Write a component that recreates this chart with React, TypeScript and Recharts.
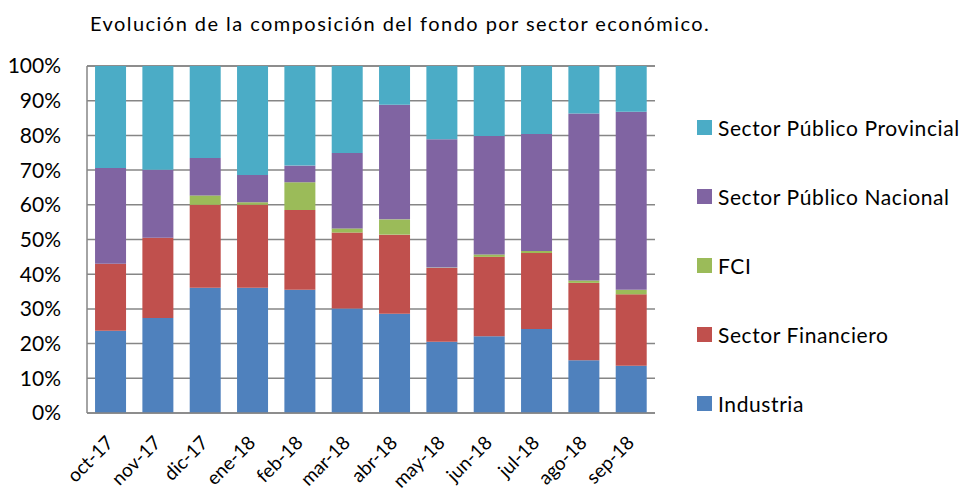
import React from 'react';
import { BarChart, Bar, XAxis, YAxis, CartesianGrid, Legend } from 'recharts';

const months = ['oct-17', 'nov-17', 'dic-17', 'ene-18', 'feb-18', 'mar-18', 'abr-18', 'may-18', 'jun-18', 'jul-18', 'ago-18', 'sep-18'];
const industria = [23.7, 27.4, 36.1, 36.1, 35.5, 30.1, 28.6, 20.5, 22.1, 24.2, 15.2, 13.6];
const financiero = [19.3, 23.1, 23.9, 23.9, 23.0, 21.9, 22.8, 21.3, 22.9, 21.9, 22.3, 20.6];
const fci = [0, 0, 2.7, 0.7, 8.0, 1.2, 4.4, 0.1, 0.7, 0.6, 0.7, 1.3];
const nacional = [27.6, 19.6, 10.8, 7.9, 4.8, 21.7, 33.0, 37.0, 34.1, 33.7, 48.1, 51.3];
const provincial = [29.4, 29.9, 26.5, 31.4, 28.7, 25.1, 11.2, 21.1, 20.2, 19.6, 13.7, 13.2];
const yTicks = [0, 10, 20, 30, 40, 50, 60, 70, 80, 90, 100];

const series = [
  { key: 'industria', name: 'Industria', color: '#4F81BD', values: industria },
  { key: 'financiero', name: 'Sector Financiero', color: '#C0504D', values: financiero },
  { key: 'fci', name: 'FCI', color: '#9BBB59', values: fci },
  { key: 'nacional', name: 'Sector Público Nacional', color: '#8064A2', values: nacional },
  { key: 'provincial', name: 'Sector Público Provincial', color: '#4BACC6', values: provincial },
];

const data = months.map((m, i) => {
  const row: any = { month: m };
  series.forEach((s) => { row[s.key] = s.values[i]; });
  return row;
});

const FONT = 'Lato, "Open Sans", sans-serif';

const XTick = (props: any) => {
  const { x, y, payload } = props;
  return (
    <g transform={`translate(${x + 4},${y + 23})`}>
      <text x={0} y={0} textAnchor="end" transform="rotate(-45)" fontSize={19} fill="#000" fontFamily={FONT}>
        {payload.value}
      </text>
    </g>
  );
};

const renderLegend = () => {
  const items = [...series].reverse();
  return (
    <div style={{ fontFamily: FONT }}>
      {items.map((s) => (
        <div key={s.key} style={{ height: 69, display: 'flex', alignItems: 'center' }}>
          <span style={{ display: 'inline-block', width: 15, height: 15, background: s.color, marginRight: 6 }} />
          <span style={{ fontSize: 21, letterSpacing: 0.6, color: '#000', whiteSpace: 'nowrap' }}>{s.name}</span>
        </div>
      ))}
    </div>
  );
};

export default function App() {
  return (
    <div style={{ position: 'absolute', left: 0, top: 0, width: 968, height: 492, background: '#fff' }}>
      <div style={{ position: 'absolute', left: 90, top: 11, fontFamily: FONT, fontSize: 20, letterSpacing: 1.45, color: '#000', whiteSpace: 'nowrap' }}>
        Evolución de la composición del fondo por sector económico.
      </div>
      <BarChart
        width={968}
        height={492}
        data={data}
        margin={{ top: 66, right: 313, bottom: 0, left: 0 }}
        barCategoryGap="17%"
      >
        <CartesianGrid vertical={false} stroke="#868686" strokeWidth={1.5} />
        <XAxis
          dataKey="month"
          height={79}
          interval={0}
          tick={<XTick />}
          tickLine={false}
          axisLine={{ stroke: '#868686', strokeWidth: 1.5 }}
        />
        <YAxis
          width={87}
          domain={[0, 100]}
          ticks={yTicks}
          interval={0}
          tickFormatter={(v: number) => `${v}%`}
          tick={{ fontSize: 21, fill: '#000', fontFamily: FONT }}
          tickLine={false}
          tickMargin={20}
          axisLine={{ stroke: '#868686', strokeWidth: 1.5 }}
        />
        <Legend
          layout="vertical"
          align="center"
          verticalAlign="middle"
          content={renderLegend}
          wrapperStyle={{ left: 697, top: 93, width: 271, height: 345 }}
        />
        {series.map((s) => (
          <Bar key={s.key} dataKey={s.key} name={s.name} stackId="a" fill={s.color} isAnimationActive={false} />
        ))}
      </BarChart>
    </div>
  );
}
